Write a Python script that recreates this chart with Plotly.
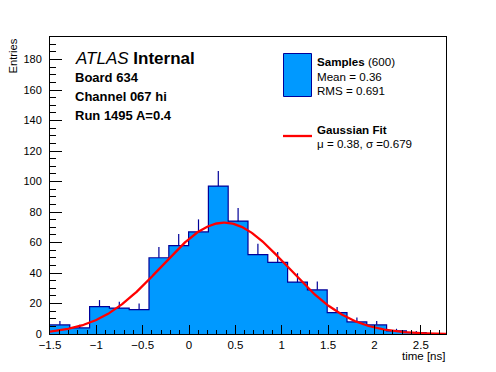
import numpy as np
import plotly.graph_objects as go

# ---- data ----
x_min = -1.5
x_max = 2.772
n_bins = 20
counts = [6, 4, 18, 17, 16, 50, 58, 67, 97, 74, 52, 47, 34, 29, 14, 8, 6, 2, 1, 0]
fit_mu = 0.38
fit_sigma = 0.679
fit_const = 73.0
n_entries = 600
mean_val = 0.36
rms_val = 0.691
x_ticks = [-1.5, -1, -0.5, 0, 0.5, 1, 1.5, 2, 2.5]
y_ticks = [0, 20, 40, 60, 80, 100, 120, 140, 160, 180]

# ---- derived ----
edges = np.linspace(x_min, x_max, n_bins + 1)
centers = 0.5 * (edges[:-1] + edges[1:])
bw = edges[1] - edges[0]
cnt = np.array(counts, dtype=float)
errs = np.sqrt(cnt)
xf = np.linspace(x_min, x_max, 400)
yf = fit_const * np.exp(-0.5 * ((xf - fit_mu) / fit_sigma) ** 2)

FILL = "#0099ff"
DARK = "#000099"
FONT = "Liberation Sans, Arial, Helvetica, sans-serif"

W, H = 496, 372
L, R, T, B = 50, 50, 37, 38
PW, PH = W - L - R, H - T - B


def px(x):
    return (x - L) / PW


def py(y):
    return (H - B - y) / PH


fig = go.Figure()
fig.add_trace(go.Bar(x=centers, y=cnt, width=bw, marker=dict(color=FILL, line=dict(width=0)),
                     hoverinfo="skip", showlegend=False))
fig.add_trace(go.Scatter(x=edges, y=list(cnt) + [cnt[-1]], mode="lines", line=dict(color=DARK, width=1.2, shape="hv"),
                         showlegend=False, hoverinfo="skip"))
mask = cnt > 0
fig.add_trace(go.Scatter(x=centers[mask], y=cnt[mask], mode="markers", marker=dict(size=0.1, color=DARK, opacity=0),
                         error_y=dict(type="data", array=errs[mask], arrayminus=[0] * int(mask.sum()),
                                      color=DARK, thickness=1.2, width=0),
                         showlegend=False, hoverinfo="skip"))
fig.add_trace(go.Scatter(x=xf, y=yf, mode="lines", line=dict(color="#ff0000", width=2.3), showlegend=False,
                         hoverinfo="skip"))

fig.update_layout(
    width=W, height=H, margin=dict(l=L, r=R, t=T, b=B, pad=0, autoexpand=False),
    paper_bgcolor="white", plot_bgcolor="white", bargap=0,
    font=dict(family=FONT, size=11.5, color="black"),
    xaxis=dict(range=[x_min, x_max], tickvals=x_ticks, ticktext=[("\u2212" if v < 0 else "") + f"{abs(v):g}" for v in x_ticks],
               ticks="inside", ticklen=9, tickwidth=1, tickcolor="black",
               minor=dict(ticks="inside", ticklen=4.5, dtick=0.1, tick0=-1.5, tickcolor="black"),
               showline=True, mirror=True, linecolor="black", linewidth=1, showgrid=False, zeroline=False,
               ticklabelstandoff=0, tickfont=dict(size=11.5), automargin=False),
    yaxis=dict(range=[0, 194.8], tickvals=y_ticks, ticks="inside", ticklen=12, tickwidth=1, tickcolor="black",
               minor=dict(ticks="inside", ticklen=6, dtick=5, tickcolor="black"),
               showline=True, mirror=True, linecolor="black", linewidth=1, showgrid=False, zeroline=False,
               ticklabelstandoff=5, tickfont=dict(size=11), automargin=False),
)

ann = []


def text(x, y, s, size=11.5, xanchor="left", **kw):
    ann.append(dict(x=px(x), y=py(y), xref="paper", yref="paper", text=s, showarrow=False, borderpad=0,
                    xanchor=xanchor, yanchor="middle", font=dict(family=FONT, size=size, color="black"), **kw))


text(74, 58.5, "<i>ATLAS</i> <b>Internal</b>", size=17)
text(74, 77, "<b>Board 634</b>", size=13)
text(74, 96, "<b>Channel 067 hi</b>", size=13)
text(74, 115, "<b>Run 1495 A=0.4</b>", size=13)
text(316, 62, f"<b>Samples</b> ({n_entries})", size=11.6)
text(316, 76.5, f"Mean = {mean_val:g}", size=11.6)
text(316, 90.5, f"RMS = {rms_val:g}", size=11.6)
text(316, 129, "<b>Gaussian Fit</b>", size=11.6)
text(316, 143, f"\u03bc = {fit_mu:g}, \u03c3 ={fit_sigma:g}", size=11.6)
text(446, 356, "time [ns]", size=11.5, xanchor="right")
ann.append(dict(x=px(12), y=1, xref="paper", yref="paper", text="Entries", showarrow=False, textangle=-90,
                xanchor="center", yanchor="top", font=dict(family=FONT, size=11.2, color="black")))
fig.update_layout(annotations=ann)

fig.update_layout(shapes=[
    dict(type="rect", xref="paper", yref="paper", x0=px(283.5), x1=px(311.5), y0=py(53.5), y1=py(96.5),
         fillcolor=FILL, line=dict(color=DARK, width=1)),
    dict(type="line", xref="paper", yref="paper", x0=px(283), x1=px(312), y0=py(136), y1=py(136),
         line=dict(color="#ff0000", width=2.3)),
])

fig.write_html("out.html", config={"displayModeBar": False},
               post_script="document.body.style.margin='0';document.body.style.padding='0';")
